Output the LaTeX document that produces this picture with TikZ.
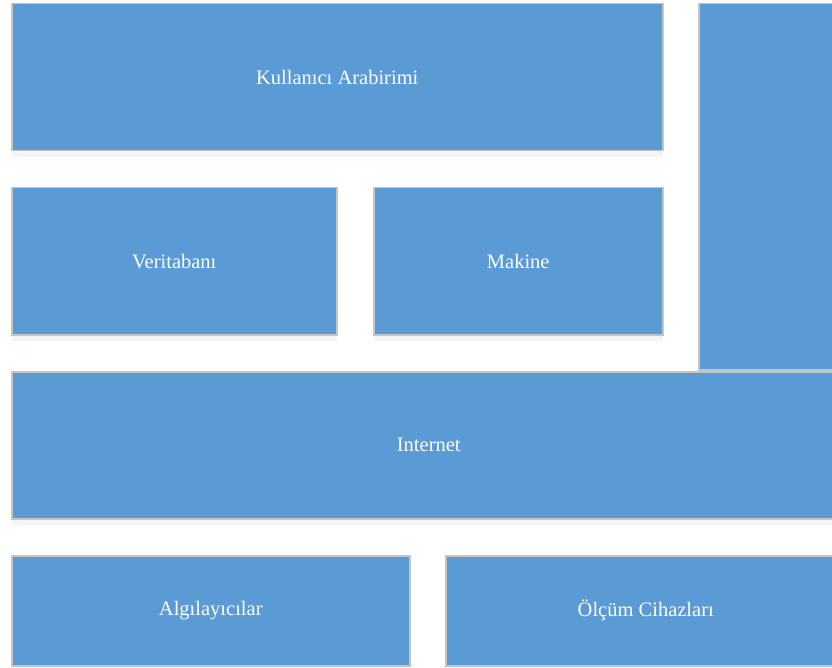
\documentclass[tikz,border=0pt]{standalone}
\usepackage{fontspec}
\setmainfont{Liberation Serif}
\usepackage{tikz}
\usetikzlibrary{positioning,shadows}
\definecolor{kutu-mavi}{HTML}{5B9BD5}
\definecolor{kutu-kenar}{HTML}{C4C4C4}

\tikzset{
    kutu/.style={draw=kutu-kenar, line width=1.5pt, fill=kutu-mavi, text=white,
        anchor=north west, inner sep=0pt, font=\fontsize{20.5}{24}\selectfont,
        drop shadow={shadow xshift=0pt, shadow yshift=-6pt, opacity=0.06, fill=kutu-mavi!60!black}}
}

\begin{document}
\begin{tikzpicture}[x=1pt, y=-1pt]
    \clip (0,0) rectangle (832,668);
    \fill[white] (0,0) rectangle (832,668);
    \node[kutu, minimum width=651pt, minimum height=147pt] (kullanici) at (11,3) {Kullanıcı Arabirimi};
    \node[kutu, minimum width=150pt, minimum height=366pt] (sag) at (698,3) {};
    \node[kutu, minimum width=325pt, minimum height=147pt] (veritabani) at (11,187) {Veritabanı};
    \node[kutu, minimum width=289pt, minimum height=147pt] (makine) at (373,187) {Makine};
    \node[kutu, minimum width=834pt, minimum height=147pt] (internet) at (11,371) {Internet};
    \node[kutu, minimum width=398pt, minimum height=110pt] (algilayici) at (11,555) {Algılayıcılar};
    \node[kutu, minimum width=400pt, minimum height=110pt] (olcum) at (445,555) {Ölçüm Cihazları};
\end{tikzpicture}
\end{document}
